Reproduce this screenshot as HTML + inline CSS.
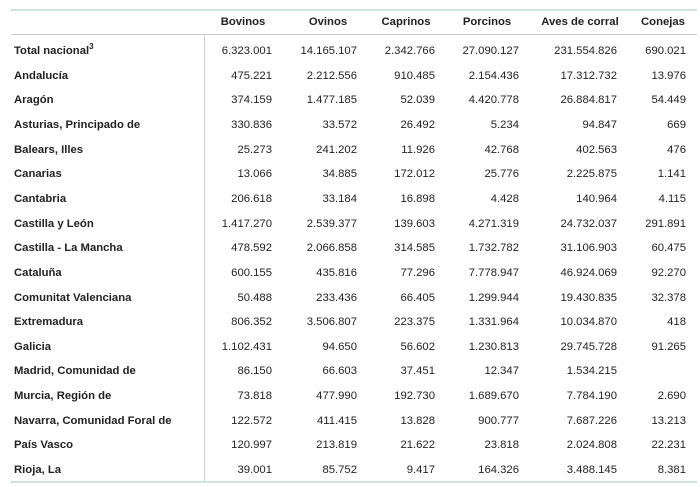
<!DOCTYPE html>
<html><head><style>
body{margin:0;width:700px;height:487px;background:#fff;font-family:"Liberation Sans",Arial,sans-serif;font-size:11.3px;color:#222;position:relative;overflow:hidden}
.l{position:absolute;left:11px;width:686px;height:0}
.t{position:absolute;white-space:nowrap;line-height:14px}
.h{font-weight:bold;transform:translateX(-50%)}
.n{transform:translateX(-100%)}
.r{font-weight:bold;left:14px}
</style></head><body>
<div class="l" style="top:9px;border-top:2px solid #cfe5e0"></div>
<div class="l" style="top:34px;border-top:1px solid #ccc"></div>
<div class="l" style="top:481px;border-top:2px solid #cfe5e0"></div>
<div style="position:absolute;left:204px;top:34px;width:1px;height:447px;background:#ccc"></div>
<div id="c"></div>
<script>
var H=["Bovinos","Ovinos","Caprinos","Porcinos","Aves de corral","Conejas"];
var HC=[243,328,406,487,580,663];
var RE=[272,357,435,519,617,686];
var D=[["Total nacional<sup style='font-size:8px;line-height:0'>3</sup>","6.323.001","14.165.107","2.342.766","27.090.127","231.554.826","690.021"],
["Andalucía","475.221","2.212.556","910.485","2.154.436","17.312.732","13.976"],
["Aragón","374.159","1.477.185","52.039","4.420.778","26.884.817","54.449"],
["Asturias, Principado de","330.836","33.572","26.492","5.234","94.847","669"],
["Balears, Illes","25.273","241.202","11.926","42.768","402.563","476"],
["Canarias","13.066","34.885","172.012","25.776","2.225.875","1.141"],
["Cantabria","206.618","33.184","16.898","4.428","140.964","4.115"],
["Castilla y León","1.417.270","2.539.377","139.603","4.271.319","24.732.037","291.891"],
["Castilla - La Mancha","478.592","2.066.858","314.585","1.732.782","31.106.903","60.475"],
["Cataluña","600.155","435.816","77.296","7.778.947","46.924.069","92.270"],
["Comunitat Valenciana","50.488","233.436","66.405","1.299.944","19.430.835","32.378"],
["Extremadura","806.352","3.506.807","223.375","1.331.964","10.034.870","418"],
["Galicia","1.102.431","94.650","56.602","1.230.813","29.745.728","91.265"],
["Madrid, Comunidad de","86.150","66.603","37.451","12.347","1.534.215",""],
["Murcia, Región de","73.818","477.990","192.730","1.689.670","7.784.190","2.690"],
["Navarra, Comunidad Foral de","122.572","411.415","13.828","900.777","7.687.226","13.213"],
["País Vasco","120.997","213.819","21.622","23.818","2.024.808","22.231"],
["Rioja, La","39.001","85.752","9.417","164.326","3.488.145","8.381"]];
var s="";
H.forEach(function(h,i){s+="<div class='t h' style='left:"+HC[i]+"px;top:15px'>"+h+"</div>";});
D.forEach(function(r,j){var y=44+j*24.65;
s+="<div class='t r' style='top:"+y+"px'>"+r[0]+"</div>";
for(var i=1;i<7;i++)s+="<div class='t n' style='left:"+RE[i-1]+"px;top:"+y+"px'>"+r[i]+"</div>";});
document.getElementById("c").innerHTML=s;
</script>
</body></html>
